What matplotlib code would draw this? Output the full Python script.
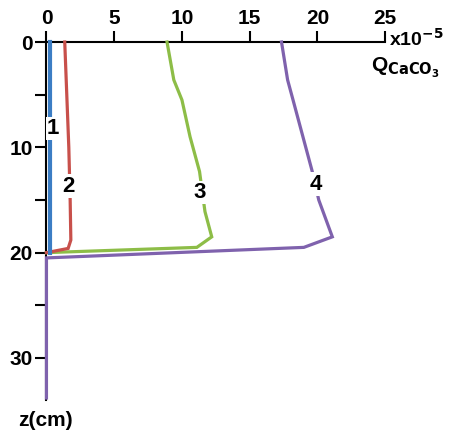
import numpy as np
import matplotlib.pyplot as plt

plt.rcParams['font.family'] = ['Liberation Sans', 'DejaVu Sans']
plt.rcParams['font.weight'] = 'bold'

# profiles of Q_CaCO3 (x1e-5) against depth z (cm)
z1 = [0, 20]
q1 = [0.25, 0.25]

z2 = [0, 5, 10, 15, 18.8, 19.6, 20]
q2 = [1.35, 1.5, 1.65, 1.75, 1.8, 1.6, 0]

z3 = [0, 3.6, 5.5, 9, 12.3, 16.1, 18.5, 19.5, 20]
q3 = [8.9, 9.4, 10.0, 10.6, 11.3, 11.7, 12.2, 11.1, 0]

z4 = [0, 3.6, 5.5, 12.2, 15, 18.5, 19.5, 20.5, 33.8]
q4 = [17.35, 17.8, 18.2, 19.6, 20.1, 21.1, 19.0, 0, 0]

labels = ['1', '2', '3', '4']
label_q = [0.5, 1.65, 11.3, 19.9]
label_z = [8.2, 13.7, 14.3, 13.5]

colors = ['#3b7dc4', '#c8504b', '#8dbd47', '#7f62ad']

fig = plt.figure(figsize=(4.51, 4.33), dpi=100)
ax = fig.add_axes([0.103, 0.076, 0.751, 0.827])

for q, z, c, w in zip([q4, q3, q2, q1], [z4, z3, z2, z1], colors[::-1],
                      [2.3, 2.3, 2.3, 3.0]):
    ax.plot(q, z, color=c, lw=w, solid_joinstyle='miter', zorder=3, clip_on=False)

for t, x, y in zip(labels, label_q, label_z):
    ax.text(x, y, t, fontsize=16, fontweight='bold', ha='center', va='center',
            bbox=dict(facecolor='white', edgecolor='none', pad=1.0), zorder=5)

ax.set_xlim(0, 25)
ax.set_ylim(34, 0)
ax.xaxis.tick_top()
ax.set_xticks([0, 5, 10, 15, 20, 25])
ax.set_yticks([0, 10, 20, 30])
ax.set_yticks([5, 15, 25], minor=True)
ax.tick_params(axis='both', which='both', direction='out', length=8, width=1.5,
               labelsize=15, pad=2)
for lab in ax.get_xticklabels() + ax.get_yticklabels():
    lab.set_fontweight('bold')
ax.spines['right'].set_visible(False)
ax.spines['bottom'].set_visible(False)
ax.spines['top'].set_linewidth(1.5)
ax.spines['left'].set_linewidth(1.5)

fig.text(0.862, 0.91, r'x10$^{\mathbf{-5}}$', fontsize=14, fontweight='bold',
         ha='left', va='center')
fig.text(0.822, 0.843, r'Q$_{\mathrm{CaCO_3}}$', fontsize=15, fontweight='bold',
         ha='left', va='center')
fig.text(0.04, 0.03, 'z(cm)', fontsize=15, fontweight='bold', ha='left', va='center')

fig.savefig('out.png', dpi=100)
